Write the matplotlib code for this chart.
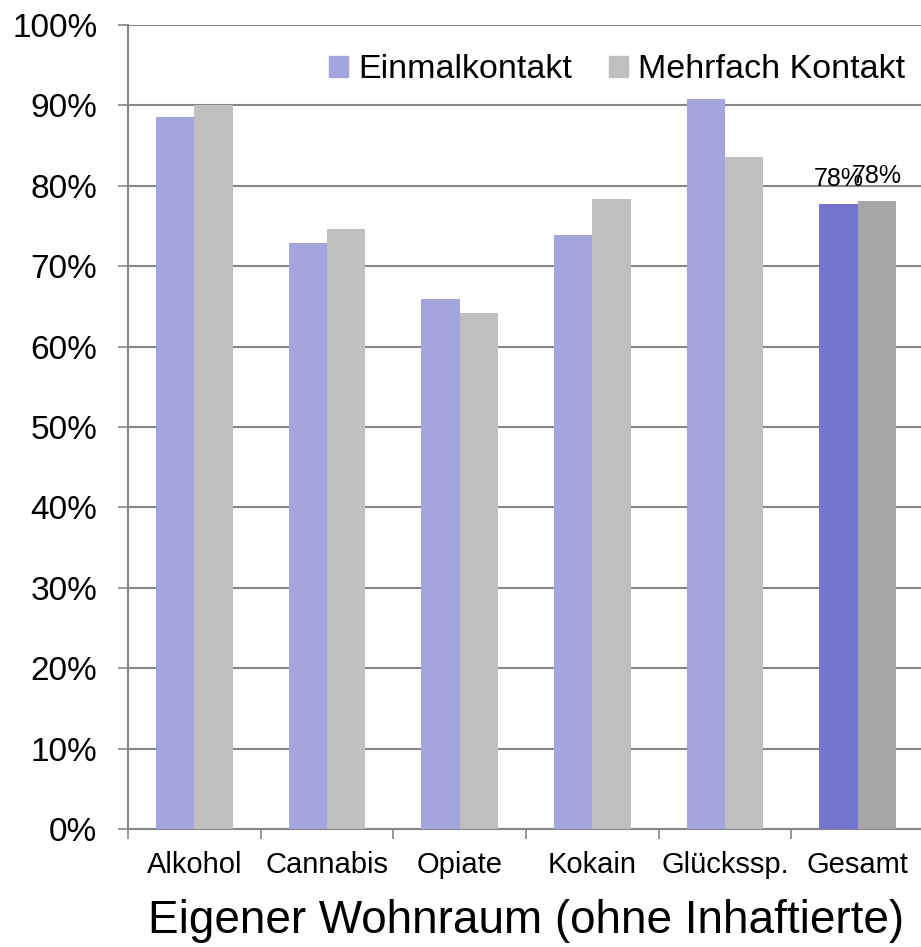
import matplotlib
matplotlib.use('Agg')
import matplotlib.pyplot as plt
import numpy as np
from matplotlib.patches import Patch

plt.rcParams['font.family'] = ['Liberation Sans', 'DejaVu Sans']

# Daten
categories = ['Alkohol', 'Cannabis', 'Opiate', 'Kokain', 'Glücksspiel', 'Gesamt']
tick_labels = ['Alkohol', 'Cannabis', 'Opiate', 'Kokain', 'Glückssp.', 'Gesamt']
einmal = [0.885, 0.729, 0.659, 0.739, 0.908, 0.777]
mehrfach = [0.900, 0.746, 0.642, 0.784, 0.836, 0.781]
series_names = ['Einmalkontakt', 'Mehrfach Kontakt']
title = 'Eigener Wohnraum (ohne Inhaftierte)'

c_ein = '#A4A4DF'
c_mehr = '#BFBFBF'
c_ein_ges = '#7474CF'
c_mehr_ges = '#A6A6A6'
gridc = '#868686'

W, H = 921, 947
fig = plt.figure(figsize=(W/100, H/100), dpi=100)
# Achsen: links 128px, rechts 924px (etwas abgeschnitten), unten 829px, oben 25px
ax = fig.add_axes([128/W, 1-829/H, (924-128)/W, (829-25)/H])

x = np.arange(len(categories))
bw = 0.29
cols1 = [c_ein]*5 + [c_ein_ges]
cols2 = [c_mehr]*5 + [c_mehr_ges]
ax.bar(x - bw/2, einmal, bw, color=cols1, edgecolor='none', zorder=3)
ax.bar(x + bw/2, mehrfach, bw, color=cols2, edgecolor='none', zorder=3)

# Beschriftung Gesamt (ueberlappt wie im Original)
i = len(categories) - 1
ax.text(x[i] - bw/2, einmal[i] + 0.016, '%d%%' % round(einmal[i]*100),
        ha='center', va='bottom', fontsize=18)
ax.text(x[i] + bw/2, mehrfach[i] + 0.016, '%d%%' % round(mehrfach[i]*100),
        ha='center', va='bottom', fontsize=18)

ax.set_xlim(-0.5, len(categories) - 0.5)
ax.set_ylim(0, 1)
ax.set_yticks(np.arange(0, 1.01, 0.1))
ax.set_yticklabels(['%d%%' % v for v in range(0, 101, 10)], fontsize=24)
ax.yaxis.grid(True, color=gridc, linewidth=1.5, zorder=0)
ax.set_axisbelow(True)

ax.set_xticks(np.arange(-0.5, len(categories), 1.0))
ax.set_xticklabels([])
ax.set_xticks(x, minor=True)
ax.set_xticklabels(tick_labels, minor=True, fontsize=21)
ax.tick_params(axis='x', which='minor', length=0, pad=16)
ax.tick_params(axis='x', which='major', length=7, color=gridc, width=1.2)
ax.tick_params(axis='y', length=7, color=gridc, width=1.2, pad=15)

for s in ['top', 'right']:
    ax.spines[s].set_visible(False)
for s in ['left', 'bottom']:
    ax.spines[s].set_color(gridc)
    ax.spines[s].set_linewidth(1.5)

ax.set_xlabel(title, fontsize=33, labelpad=14)

handles = [Patch(color=c_ein), Patch(color=c_mehr)]
ax.legend(handles, series_names, loc='center', bbox_to_anchor=((617-128)/796, (829-70)/804),
          ncol=2, frameon=False, fontsize=24.5, handlelength=0.55, handleheight=0.55,
          handletextpad=0.3, columnspacing=1.1)

fig.savefig('out.png', dpi=100)
